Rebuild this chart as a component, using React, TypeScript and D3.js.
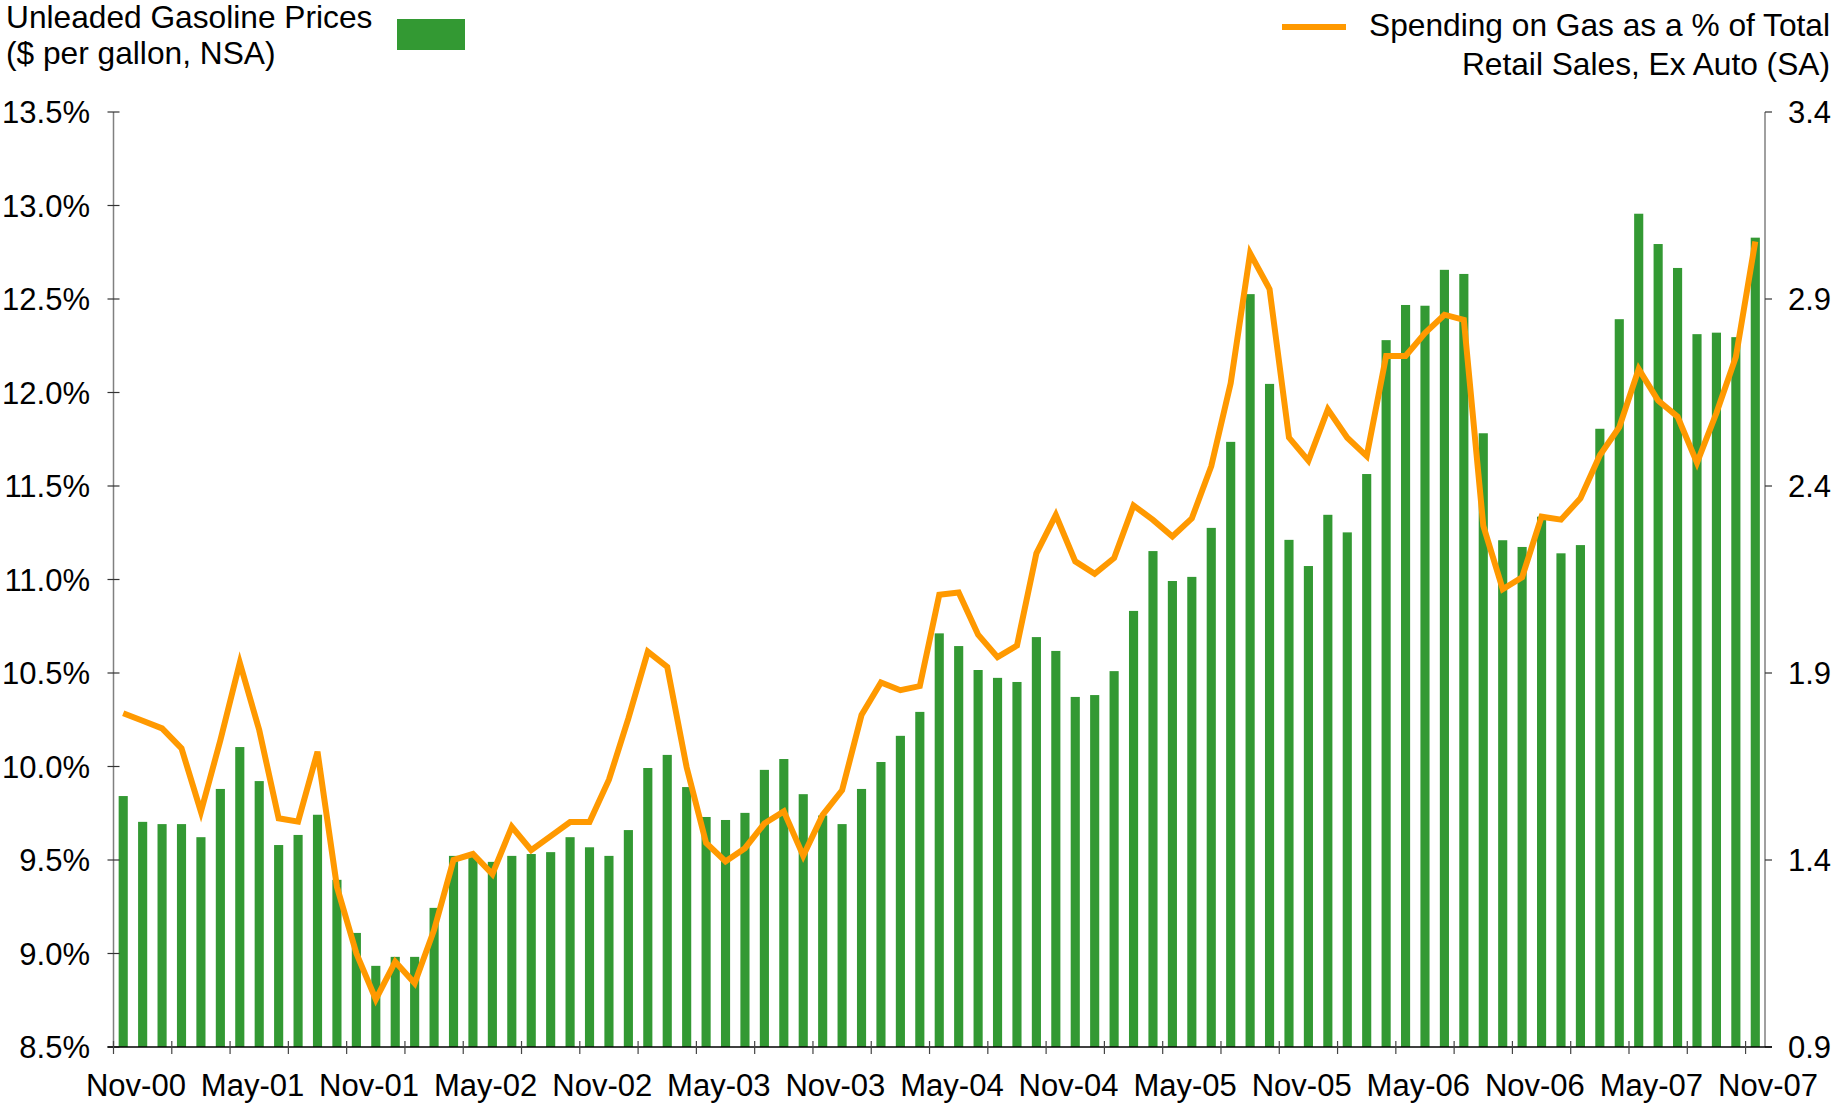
import React from "react";
import * as d3 from "d3";

// monthly, Nov-00 .. Nov-07
const gasPrice = [
  1.571, 1.502, 1.496, 1.496, 1.461, 1.59, 1.702, 1.611, 1.44, 1.467, 1.521, 1.347,
  1.205, 1.117, 1.141, 1.141, 1.272, 1.411, 1.411, 1.395, 1.411, 1.416, 1.421, 1.461,
  1.434, 1.411, 1.48, 1.646, 1.681, 1.595, 1.515, 1.507, 1.526, 1.641, 1.67, 1.576,
  1.519, 1.496, 1.59, 1.662, 1.732, 1.796, 2.006, 1.972, 1.908, 1.887, 1.876, 1.996,
  1.959, 1.836, 1.841, 1.905, 2.066, 2.226, 2.146, 2.157, 2.288, 2.518, 2.913, 2.673,
  2.256, 2.186, 2.323, 2.276, 2.432, 2.79, 2.884, 2.882, 2.978, 2.967, 2.541, 2.255,
  2.237, 2.318, 2.22, 2.242, 2.553, 2.846, 3.128, 3.047, 2.983, 2.806, 2.81, 2.798,
  3.064,
];

const gasShare = [
  10.285, 10.245, 10.204, 10.097, 9.758, 10.14, 10.555, 10.195, 9.723, 9.705, 10.079, 9.357,
  9.001, 8.755, 8.956, 8.841, 9.126, 9.5, 9.532, 9.425, 9.678, 9.553, 9.628, 9.703,
  9.703, 9.929, 10.257, 10.614, 10.533, 9.995, 9.591, 9.492, 9.563, 9.695, 9.76, 9.522,
  9.741, 9.873, 10.276, 10.449, 10.408, 10.43, 10.918, 10.93, 10.705, 10.585, 10.647, 11.14,
  11.345, 11.097, 11.03, 11.115, 11.396, 11.319, 11.23, 11.327, 11.606, 12.05, 12.744, 12.553,
  11.759, 11.636, 11.91, 11.758, 11.66, 12.195, 12.195, 12.318, 12.416, 12.389, 11.288, 10.948,
  11.012, 11.336, 11.32, 11.434, 11.664, 11.815, 12.125, 11.957, 11.871, 11.624, 11.89, 12.19,
  12.808,
];

const months = d3
  .utcMonth.range(new Date(Date.UTC(2000, 10, 1)), new Date(Date.UTC(2007, 11, 1)))
  .map(d3.utcFormat("%b-%y"));

const leftTicks = [8.5, 9, 9.5, 10, 10.5, 11, 11.5, 12, 12.5, 13, 13.5];
const rightTicks = [0.9, 1.4, 1.9, 2.4, 2.9, 3.4];

const W = 1833;
const H = 1105;
const FONT = "'Liberation Sans', Arial, Helvetica, sans-serif";
const GREEN = "#339933";
const ORANGE = "#ff9900";

export default function App() {
  const left = 113.5;
  const right = 1765;
  const top = 112;
  const bottom = 1047;

  const x = d3
    .scaleBand<number>()
    .domain(d3.range(months.length))
    .range([left, right])
    .paddingInner(0.53)
    .paddingOuter(0.265);
  const step = x.step();
  const yL = d3.scaleLinear().domain([8.5, 13.5]).range([bottom, top]);
  const yR = d3.scaleLinear().domain([0.9, 3.4]).range([bottom, top]);

  const line = d3
    .line<number>()
    .x((d, i) => (x(i) as number) + x.bandwidth() / 2)
    .y((d) => yL(d));

  const minorTicks = d3.range(0, months.length + 1, 3);
  const labelIdx = d3.range(0, months.length, 6);

  return (
    <svg
      width={W}
      height={H}
      style={{ position: "absolute", left: 0, top: 0, background: "#fff" }}
      fontFamily={FONT}
    >
      <g>
        {gasPrice.map((v, i) => (
          <rect
            key={i}
            x={x(i)}
            y={yR(v)}
            width={x.bandwidth()}
            height={bottom - yR(v)}
            fill={GREEN}
          />
        ))}
      </g>
      <path
        d={line(gasShare) || ""}
        fill="none"
        stroke={ORANGE}
        strokeWidth={6}
        strokeLinejoin="miter"
      />

      {/* left axis */}
      <line x1={left} x2={left} y1={top} y2={bottom} stroke="#808080" strokeWidth={1.5} />
      {leftTicks.map((t) => (
        <g key={t} transform={`translate(0,${yL(t)})`}>
          <line x1={left - 6} x2={left + 6} stroke="#333" strokeWidth={1.2} />
          <text x={90} dy="0.36em" textAnchor="end" fontSize={31} fill="#000">
            {d3.format(".1f")(t)}%
          </text>
        </g>
      ))}

      {/* right axis */}
      <line x1={right} x2={right} y1={top} y2={bottom} stroke="#808080" strokeWidth={1.5} />
      {rightTicks.map((t) => (
        <g key={t} transform={`translate(0,${yR(t)})`}>
          <line x1={right} x2={right + 7} stroke="#333" strokeWidth={1.2} />
          <text x={1788} dy="0.36em" textAnchor="start" fontSize={31} fill="#000">
            {d3.format(".1f")(t)}
          </text>
        </g>
      ))}

      {/* bottom axis */}
      <line x1={left - 6} x2={right + 7} y1={bottom} y2={bottom} stroke="#000" strokeWidth={1.5} />
      {minorTicks.map((i) => (
        <line
          key={i}
          x1={left + step * i}
          x2={left + step * i}
          y1={bottom - 6}
          y2={bottom + 7}
          stroke="#444"
          strokeWidth={1.2}
        />
      ))}
      {labelIdx.map((i) => (
        <text
          key={i}
          x={left + step * (i + 1) + 3}
          y={1096}
          textAnchor="middle"
          fontSize={31}
          fill="#000"
        >
          {months[i]}
        </text>
      ))}

      {/* legends */}
      <text x={6} y={28} fontSize={31.7} fill="#000">
        Unleaded Gasoline Prices
      </text>
      <text x={6} y={64} fontSize={31.7} fill="#000">
        ($ per gallon, NSA)
      </text>
      <rect x={397} y={19} width={68} height={31} fill={GREEN} />

      <line x1={1282} x2={1346} y1={27} y2={27} stroke={ORANGE} strokeWidth={6} />
      <text x={1830} y={36} fontSize={31.7} textAnchor="end" fill="#000">
        Spending on Gas as a % of Total
      </text>
      <text x={1830} y={75} fontSize={31.7} textAnchor="end" fill="#000">
        Retail Sales, Ex Auto (SA)
      </text>
    </svg>
  );
}
